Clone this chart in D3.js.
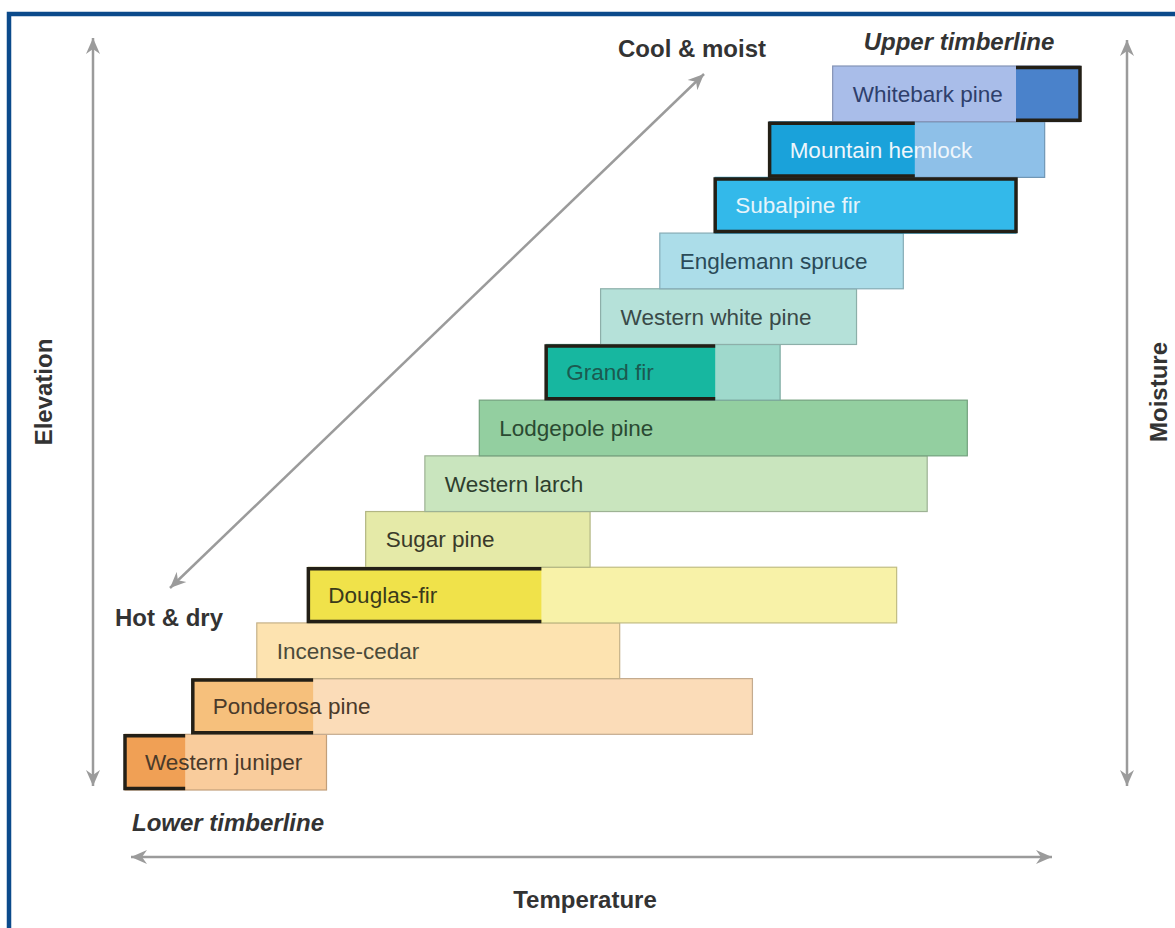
<!DOCTYPE html>
<html>
<head>
<meta charset="utf-8">
<script src="https://cdnjs.cloudflare.com/ajax/libs/d3/7.8.5/d3.min.js"></script>
<style>
  body { margin: 0; background: #fff; }
  svg { display: block; }
</style>
</head>
<body>
<svg id="chart" width="1175" height="928"></svg>
<script>
// species from lower timberline (bottom) to upper timberline (top)
var species = ["Western juniper", "Ponderosa pine", "Incense-cedar", "Douglas-fir", "Sugar pine",
  "Western larch", "Lodgepole pine", "Grand fir", "Western white pine", "Englemann spruce",
  "Subalpine fir", "Mountain hemlock", "Whitebark pine"];

// range along the temperature / moisture gradient (0 = hot & dry, 100 = cool & moist)
var rangeStart = [0, 7.1, 13.8, 19.2, 25.2, 31.4, 37.1, 44.1, 49.8, 56.0, 61.8, 67.5, 74.1];
var rangeEnd   = [21.1, 65.7, 51.8, 80.8, 48.7, 84.0, 88.2, 68.6, 76.6, 81.5, 93.3, 96.3, 100];

// optimum part of each range (null = none)
var optStart = [0, 7.1, null, 19.2, null, null, null, 44.1, null, null, 61.8, 67.5, 93.3];
var optEnd   = [6.3, 19.7, null, 43.6, null, null, null, 61.8, null, null, 93.3, 82.7, 100];

var lightColors = ["#f9cc9c", "#fbdcb8", "#fde3b0", "#f8f2a8", "#e5eaa8", "#c9e5be", "#93cfa0",
  "#9fd9cc", "#b5e1d9", "#acdde9", "#33b9ea", "#8ec0e8", "#a9bde9"];
var darkColors = ["#f0a055", "#f6c07c", null, "#f0e24a", null, null, null,
  "#17b7a0", null, null, "#33b9ea", "#1aa2da", "#4a82cb"];
var textColors = ["#4a3a2a", "#4a3a2a", "#4a4a3a", "#3a3a1a", "#3a3a2a", "#2e3e2e", "#2a4a32",
  "#1b5a50", "#3a4a48", "#2a4a58", "#e6f4fb", "#eef6fc", "#2e3f6c"];

var svg = d3.select("#chart");

var x = d3.scaleLinear().domain([0, 100]).range([125, 1080]);
var y = d3.scaleBand().domain(species).range([790, 66]).paddingInner(0);

var grey = "#9b9b9b";

// frame
svg.append("path")
    .attr("d", "M9,940 L9,14 L1190,14")
    .attr("fill", "none")
    .attr("stroke", "#0b4a8b")
    .attr("stroke-width", 4.5);

// arrowhead
var defs = svg.append("defs");
defs.append("marker")
    .attr("id", "head")
    .attr("viewBox", "-16 -8 18 16")
    .attr("refX", 0)
    .attr("refY", 0)
    .attr("markerWidth", 18)
    .attr("markerHeight", 16)
    .attr("markerUnits", "userSpaceOnUse")
    .attr("orient", "auto-start-reverse")
    .append("path")
    .attr("d", "M0,0 L-16,-7 L-11,0 L-16,7 Z")
    .attr("fill", grey);

function arrow(x1, y1, x2, y2) {
    svg.append("line")
        .attr("x1", x1).attr("y1", y1)
        .attr("x2", x2).attr("y2", y2)
        .attr("stroke", grey)
        .attr("stroke-width", 2.5)
        .attr("marker-start", "url(#head)")
        .attr("marker-end", "url(#head)");
}

arrow(93, 786, 93, 38);
arrow(1127, 786, 1127, 40);
arrow(131, 857, 1052, 857);
arrow(170, 588, 704, 74);

// range bars
var rows = svg.append("g");
species.forEach(function(name, i) {
    var y0 = y(name);
    rows.append("rect")
        .attr("x", x(rangeStart[i]))
        .attr("y", y0)
        .attr("width", x(rangeEnd[i]) - x(rangeStart[i]))
        .attr("height", y.bandwidth())
        .attr("fill", lightColors[i])
        .attr("stroke", d3.color(lightColors[i]).darker(0.7))
        .attr("stroke-width", 1.2);
    if (optStart[i] !== null) {
        rows.append("rect")
            .attr("x", x(optStart[i]))
            .attr("y", y0)
            .attr("width", x(optEnd[i]) - x(optStart[i]))
            .attr("height", y.bandwidth())
            .attr("fill", darkColors[i]);
    }
});

// thick outline on the optimum part (open on the side touching the rest of the range)
var outlines = svg.append("g");
species.forEach(function(name, i) {
    if (optStart[i] === null) return;
    var a = x(optStart[i]), b = x(optEnd[i]);
    var t = y(name) + 1.5, btm = y(name) + y.bandwidth() - 1.5;
    var d;
    if (optStart[i] <= rangeStart[i] && optEnd[i] >= rangeEnd[i]) {
        d = "M" + a + "," + t + "L" + b + "," + t + "L" + b + "," + btm + "L" + a + "," + btm + "Z";
    } else if (optStart[i] <= rangeStart[i]) {
        d = "M" + b + "," + t + "L" + a + "," + t + "L" + a + "," + btm + "L" + b + "," + btm;
    } else {
        d = "M" + a + "," + t + "L" + b + "," + t + "L" + b + "," + btm + "L" + a + "," + btm;
    }
    outlines.append("path")
        .attr("d", d)
        .attr("fill", "none")
        .attr("stroke", "#231f16")
        .attr("stroke-width", 3.5)
        .attr("stroke-linejoin", "miter");
});

// species labels
species.forEach(function(name, i) {
    svg.append("text")
        .attr("x", x(rangeStart[i]) + 20)
        .attr("y", y(name) + y.bandwidth() / 2 + 8)
        .attr("fill", textColors[i])
        .attr("font-family", "'Liberation Sans', Arial, sans-serif")
        .attr("font-size", 22.5)
        .text(name);
});

// gradient labels
function label(txt, px, py, anchor, italic, rotate) {
    var t = svg.append("text")
        .attr("text-anchor", anchor)
        .attr("fill", "#333")
        .attr("font-family", "'Liberation Sans', Arial, sans-serif")
        .attr("font-weight", "bold")
        .attr("font-size", 24)
        .attr("font-style", italic ? "italic" : "normal")
        .text(txt);
    if (rotate) {
        t.attr("transform", "translate(" + px + "," + py + ") rotate(-90)");
    } else {
        t.attr("x", px).attr("y", py);
    }
}

label("Cool & moist", 692, 57, "middle", false, false);
label("Upper timberline", 959, 50, "middle", true, false);
label("Hot & dry", 115, 626, "start", false, false);
label("Lower timberline", 228, 831, "middle", true, false);
label("Temperature", 585, 908, "middle", false, false);
label("Elevation", 52, 392, "middle", false, true);
label("Moisture", 1167, 392, "middle", false, true);
</script>
</body>
</html>
